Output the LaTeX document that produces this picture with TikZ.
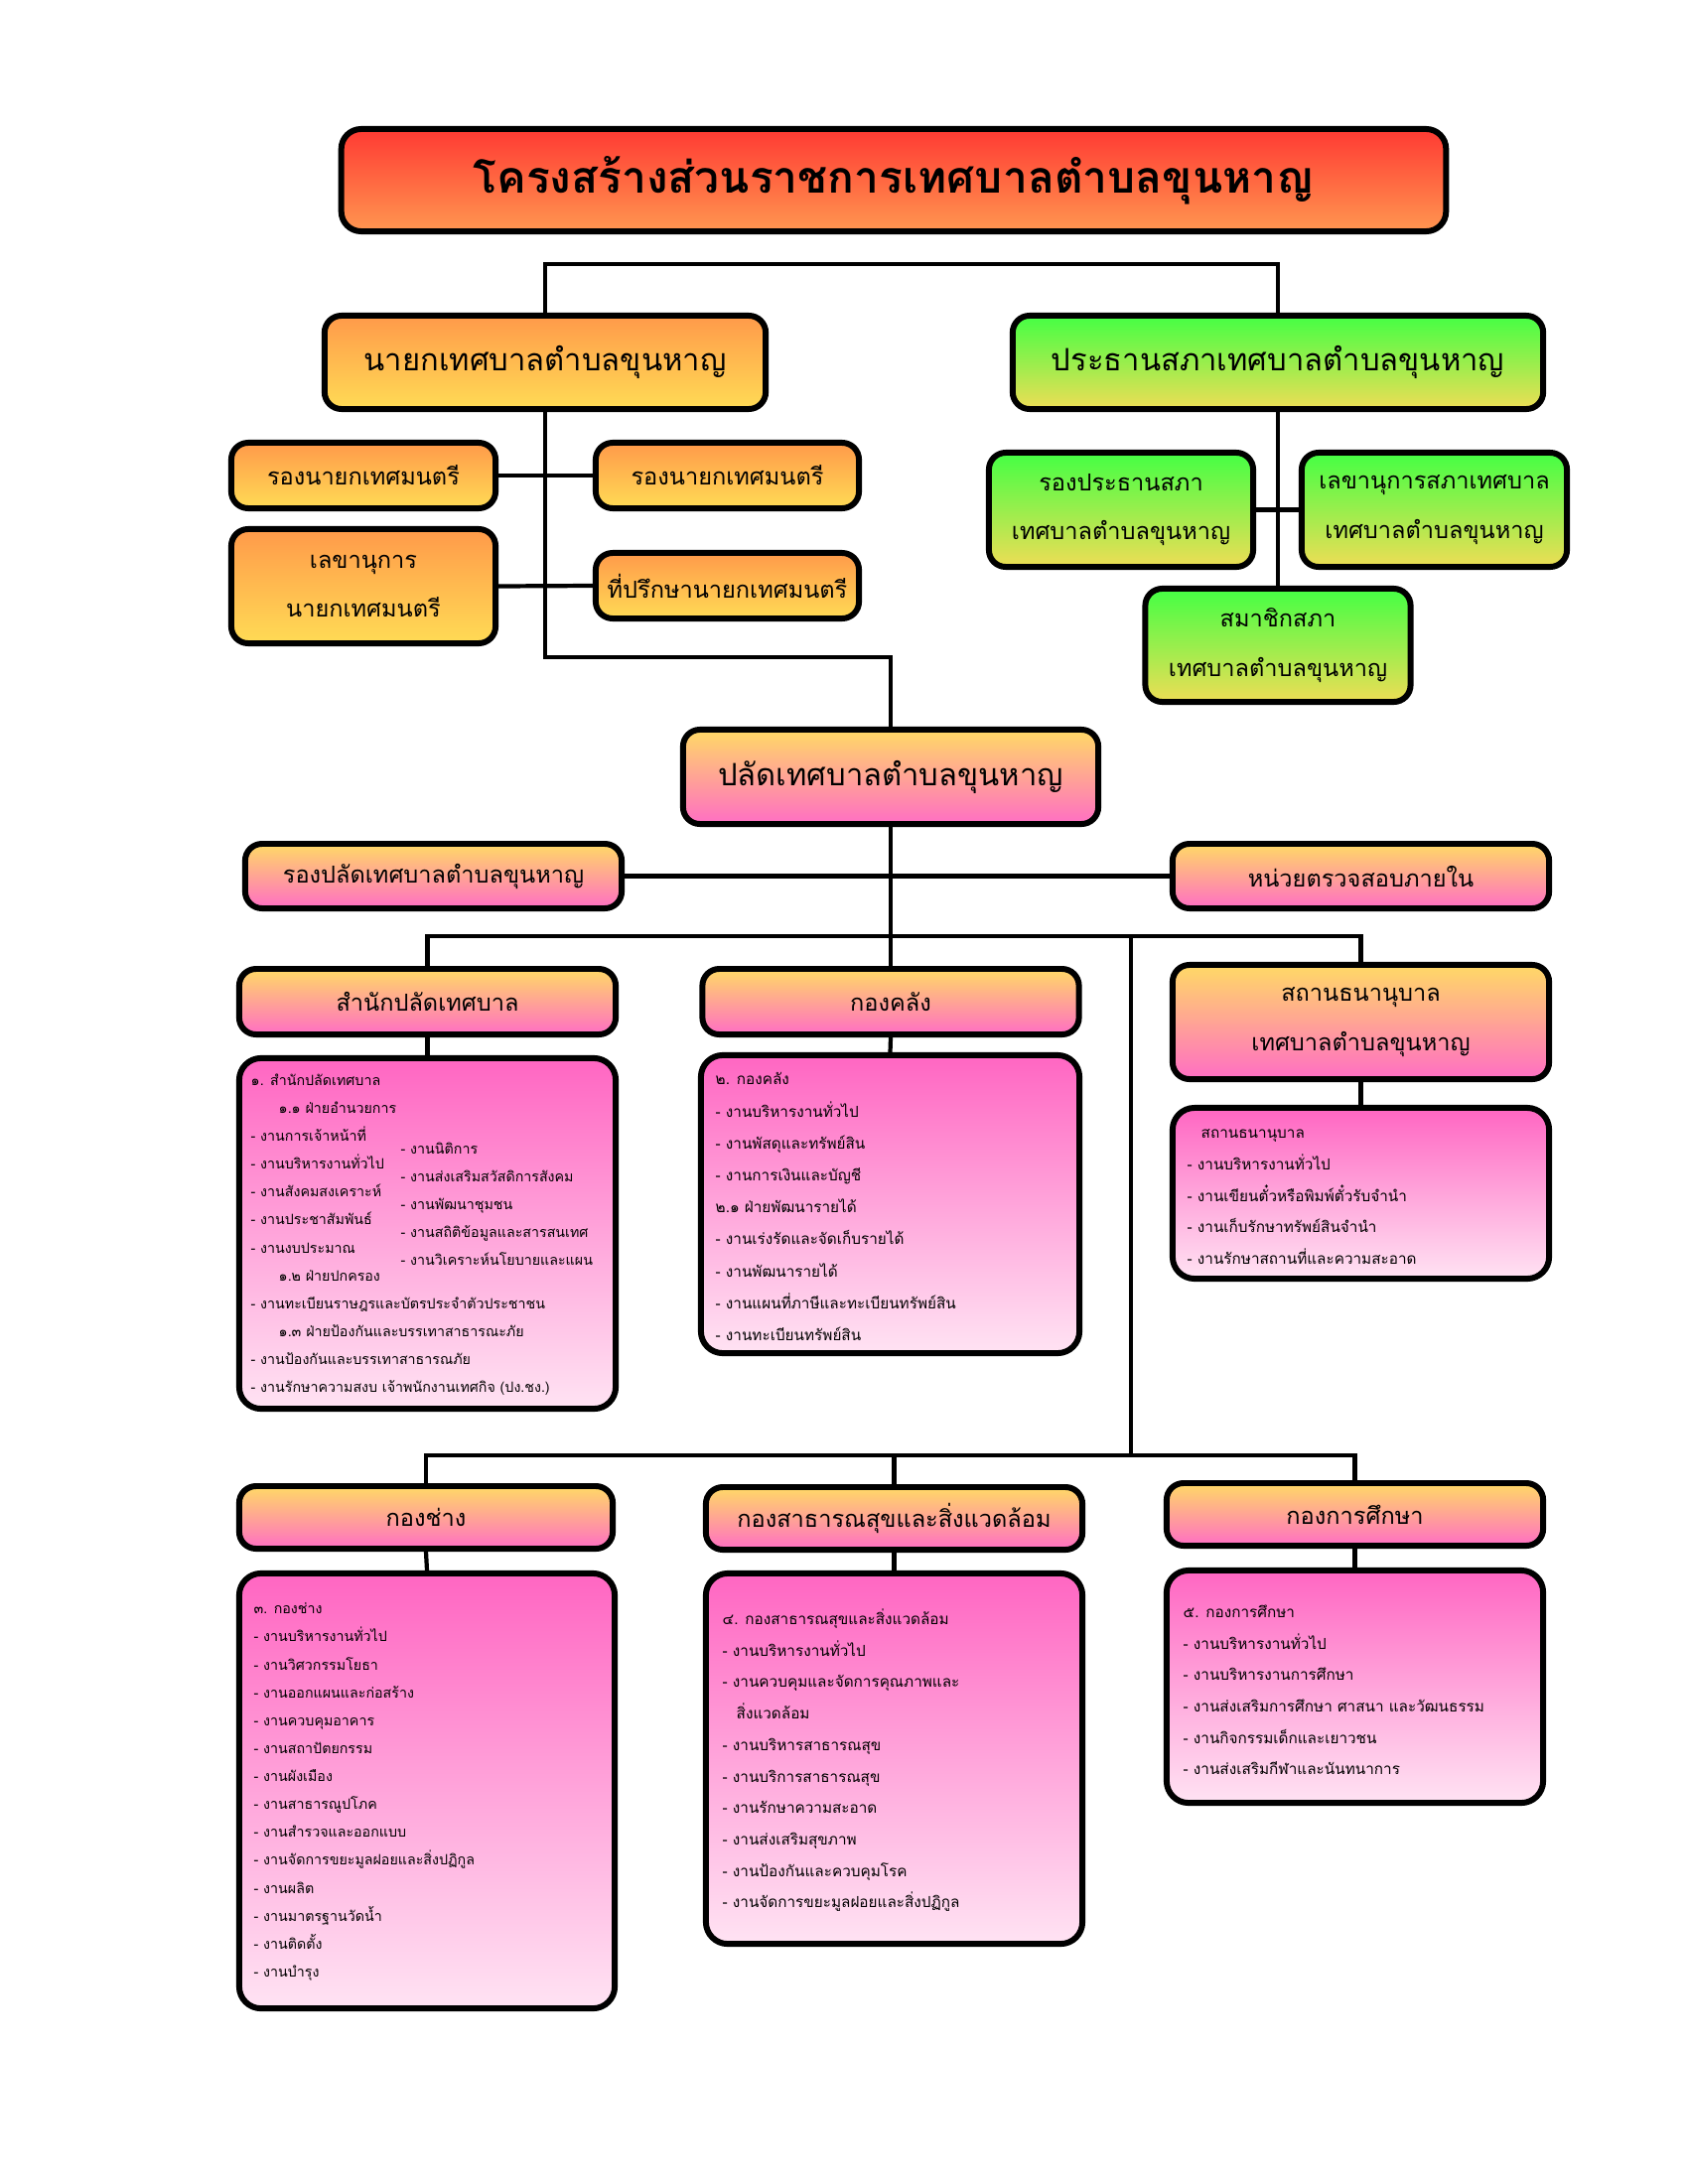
\documentclass[tikz,border=0pt]{standalone}
\usepackage{fontspec}
\setmainfont[Script=Thai]{Loma}
\usepackage{xcolor}
\usepackage{tikz}
\usetikzlibrary{positioning}

\definecolor{titletop}{HTML}{FF3A33}
\definecolor{titlebot}{HTML}{FF9650}
\definecolor{mayortop}{HTML}{FF9A4A}
\definecolor{mayorbot}{HTML}{FFDB55}
\definecolor{counciltop}{HTML}{44FF44}
\definecolor{councilbot}{HTML}{EEDD55}
\definecolor{paladtop}{HTML}{FFD966}
\definecolor{paladbot}{HTML}{FF6EC4}
\definecolor{listtop}{HTML}{FF66C2}
\definecolor{listbot}{HTML}{FFE3F3}

\begin{document}
\begin{tikzpicture}[x=0.01cm, y=-0.01cm,
    box/.style={rectangle, draw, line width=1.7pt, rounded corners=0.17cm, align=center, inner sep=0pt},
    titlebox/.style={box, top color=titletop, bottom color=titlebot, rounded corners=0.2cm, font=\bfseries\fontsize{12.6}{14}\selectfont},
    mayorbox/.style={box, top color=mayortop, bottom color=mayorbot},
    councilbox/.style={box, top color=counciltop, bottom color=councilbot},
    paladbox/.style={box, top color=paladtop, bottom color=paladbot},
    listbox/.style={box, top color=listtop, bottom color=listbot, rounded corners=0.22cm},
    bigfont/.style={font=\fontsize{8.8}{11}\selectfont},
    midfont/.style={font=\fontsize{6.7}{14}\selectfont},
    listtext/.style={anchor=north west, align=left, inner sep=0pt, font=\fontsize{4.35}{9.02}\selectfont},
    smalllist/.style={listtext, font=\fontsize{4.05}{8}\selectfont},
    link/.style={line width=1.2pt}
]
\useasboundingbox (0,0) rectangle (1700,2200);

% Title
\node[titlebox, minimum width=11.12cm, minimum height=1.03cm] (title) at (900,181.5) {โครงสร้างส่วนราชการเทศบาลตำบลขุนหาญ};

% Mayor (left side)
\node[mayorbox, bigfont, minimum width=4.44cm, minimum height=0.94cm] (mayor) at (549,365) {นายกเทศบาลตำบลขุนหาญ};
\node[mayorbox, midfont, minimum width=2.66cm, minimum height=0.66cm] (depL) at (366,479) {รองนายกเทศมนตรี};
\node[mayorbox, midfont, minimum width=2.65cm, minimum height=0.66cm] (depR) at (732.5,479) {รองนายกเทศมนตรี};
\node[mayorbox, midfont, minimum width=2.66cm, minimum height=1.15cm] (secL) at (366,590.5) {เลขานุการ\\นายกเทศมนตรี};
\node[mayorbox, midfont, minimum width=2.65cm, minimum height=0.66cm] (advisor) at (732.5,590) {ที่ปรึกษานายกเทศมนตรี};

% Council (right side)
\node[councilbox, bigfont, minimum width=5.34cm, minimum height=0.94cm] (council) at (1287,365) {ประธานสภาเทศบาลตำบลขุนหาญ};
\node[councilbox, midfont, minimum width=2.66cm, minimum height=1.15cm] (vice) at (1129,513.5) {รองประธานสภา\\เทศบาลตำบลขุนหาญ};
\node[councilbox, midfont, minimum width=2.67cm, minimum height=1.15cm] (csec) at (1444.5,513.5) {เลขานุการสภาเทศบาล\\เทศบาลตำบลขุนหาญ};
\node[councilbox, midfont, minimum width=2.67cm, minimum height=1.14cm] (member) at (1287,650) {สมาชิกสภา\\เทศบาลตำบลขุนหาญ};

% Palad and units
\node[paladbox, bigfont, minimum width=4.18cm, minimum height=0.95cm] (palad) at (897,782.5) {ปลัดเทศบาลตำบลขุนหาญ};
\node[paladbox, midfont, minimum width=3.79cm, minimum height=0.65cm] (dpalad) at (436.5,882.5) {รองปลัดเทศบาลตำบลขุนหาญ};
\node[paladbox, midfont, minimum width=3.79cm, minimum height=0.65cm] (audit) at (1370.5,882.5) {หน่วยตรวจสอบภายใน};

% Divisions - upper row
\node[paladbox, midfont, minimum width=3.79cm, minimum height=0.66cm] (office) at (430.5,1009) {สำนักปลัดเทศบาล};
\node[paladbox, midfont, minimum width=3.79cm, minimum height=0.66cm] (finance) at (897,1009) {กองคลัง};
\node[paladbox, midfont, minimum width=3.79cm, minimum height=1.15cm] (pawn) at (1370.5,1029.5) {สถานธนานุบาล\\เทศบาลตำบลขุนหาญ};

% Divisions - lower row
\node[paladbox, midfont, minimum width=3.76cm, minimum height=0.63cm] (eng) at (429,1528.5) {กองช่าง};
\node[paladbox, midfont, minimum width=3.79cm, minimum height=0.63cm] (health) at (900.5,1529.5) {กองสาธารณสุขและสิ่งแวดล้อม};
\node[paladbox, midfont, minimum width=3.79cm, minimum height=0.63cm] (edu) at (1364.5,1525.5) {กองการศึกษา};

% Task lists
\node[listbox, minimum width=3.79cm, minimum height=3.53cm] (officebox) at (430.5,1242.5) {};
\node[listbox, minimum width=3.81cm, minimum height=3.00cm] (financebox) at (896.5,1213) {};
\node[listbox, minimum width=3.79cm, minimum height=1.72cm] (pawnbox) at (1370.5,1202) {};
\node[listbox, minimum width=3.78cm, minimum height=4.38cm] (engbox) at (430,1804) {};
\node[listbox, minimum width=3.79cm, minimum height=3.73cm] (healthbox) at (900.5,1771.5) {};
\node[listbox, minimum width=3.79cm, minimum height=2.34cm] (edubox) at (1364.5,1699) {};

% Connectors - top
\coordinate (topbar) at (900,266);
\coordinate (midbar) at (897,662);
\draw[link] (mayor.north) |- (topbar) -| (council.north);
\draw[link] (depL.east) -- (depR.west);
\draw[link] (secL.east) -- (advisor.west);
\draw[link] (mayor.south) |- (midbar) -- (palad.north);
\draw[link] (council.south) -- (member.north);
\draw[link] (vice.east) -- (csec.west);
\draw[link] (dpalad.east) -- (audit.west);

% Connectors - divisions
\coordinate (bus) at (1139,943);
\coordinate (lowbus) at (1139,1466);
\draw[link] (palad.south) -- (finance.north);
\draw[link] (office.north) |- (bus) -| (pawn.north);
\draw[link] (bus) -- (lowbus);
\draw[link] (eng.north) |- (lowbus) -| (edu.north);
\draw[link] (health.north |- lowbus) -- (health.north);
\draw[link] (office.south) -- (officebox.north);
\draw[link] (finance.south) -- (financebox.north);
\draw[link] (pawn.south) -- (pawnbox.north);
\draw[link] (eng.south) -- (engbox.north);
\draw[link] (health.south) -- (healthbox.north);
\draw[link] (edu.south) -- (edubox.north);

% List texts
\node[smalllist] (officeL) at (252,1081) {๑. สำนักปลัดเทศบาล\\
\hspace*{0.28cm}๑.๑ ฝ่ายอำนวยการ\\
- งานการเจ้าหน้าที่\\
- งานบริหารงานทั่วไป\\
- งานสังคมสงเคราะห์\\
- งานประชาสัมพันธ์\\
- งานงบประมาณ\\
\hspace*{0.28cm}๑.๒ ฝ่ายปกครอง\\
- งานทะเบียนราษฎรและบัตรประจำตัวประชาชน\\
\hspace*{0.28cm}๑.๓ ฝ่ายป้องกันและบรรเทาสาธารณะภัย\\
- งานป้องกันและบรรเทาสาธารณภัย\\
- งานรักษาความสงบ เจ้าพนักงานเทศกิจ (ปง.ชง.)};
\node[smalllist] (officeR) at (403,1150) {- งานนิติการ\\
- งานส่งเสริมสวัสดิการสังคม\\
- งานพัฒนาชุมชน\\
- งานสถิติข้อมูลและสารสนเทศ\\
- งานวิเคราะห์นโยบายและแผน};
\node[listtext, font=\fontsize{4.35}{9.15}\selectfont] (financeL) at (720,1080) {๒. กองคลัง\\
- งานบริหารงานทั่วไป\\
- งานพัสดุและทรัพย์สิน\\
- งานการเงินและบัญชี\\
๒.๑ ฝ่ายพัฒนารายได้\\
- งานเร่งรัดและจัดเก็บรายได้\\
- งานพัฒนารายได้\\
- งานแผนที่ภาษีและทะเบียนทรัพย์สิน\\
- งานทะเบียนทรัพย์สิน};
\node[listtext] (pawnL) at (1195,1137) {\hspace*{0.14cm}สถานธนานุบาล\\
- งานบริหารงานทั่วไป\\
- งานเขียนตั๋วหรือพิมพ์ตั๋วรับจำนำ\\
- งานเก็บรักษาทรัพย์สินจำนำ\\
- งานรักษาสถานที่และความสะอาด};
\node[smalllist] (engL) at (255,1614) {๓. กองช่าง\\
- งานบริหารงานทั่วไป\\
- งานวิศวกรรมโยธา\\
- งานออกแผนและก่อสร้าง\\
- งานควบคุมอาคาร\\
- งานสถาปัตยกรรม\\
- งานผังเมือง\\
- งานสาธารณูปโภค\\
- งานสำรวจและออกแบบ\\
- งานจัดการขยะมูลฝอยและสิ่งปฏิกูล\\
- งานผลิต\\
- งานมาตรฐานวัดน้ำ\\
- งานติดตั้ง\\
- งานบำรุง};
\node[listtext] (healthL) at (727,1620) {๔. กองสาธารณสุขและสิ่งแวดล้อม\\
- งานบริหารงานทั่วไป\\
- งานควบคุมและจัดการคุณภาพและ\\
\hspace*{0.14cm}สิ่งแวดล้อม\\
- งานบริหารสาธารณสุข\\
- งานบริการสาธารณสุข\\
- งานรักษาความสะอาด\\
- งานส่งเสริมสุขภาพ\\
- งานป้องกันและควบคุมโรค\\
- งานจัดการขยะมูลฝอยและสิ่งปฏิกูล};
\node[listtext] (eduL) at (1191,1616) {๕. กองการศึกษา\\
- งานบริหารงานทั่วไป\\
- งานบริหารงานการศึกษา\\
- งานส่งเสริมการศึกษา ศาสนา และวัฒนธรรม\\
- งานกิจกรรมเด็กและเยาวชน\\
- งานส่งเสริมกีฬาและนันทนาการ};

\end{tikzpicture}
\end{document}
